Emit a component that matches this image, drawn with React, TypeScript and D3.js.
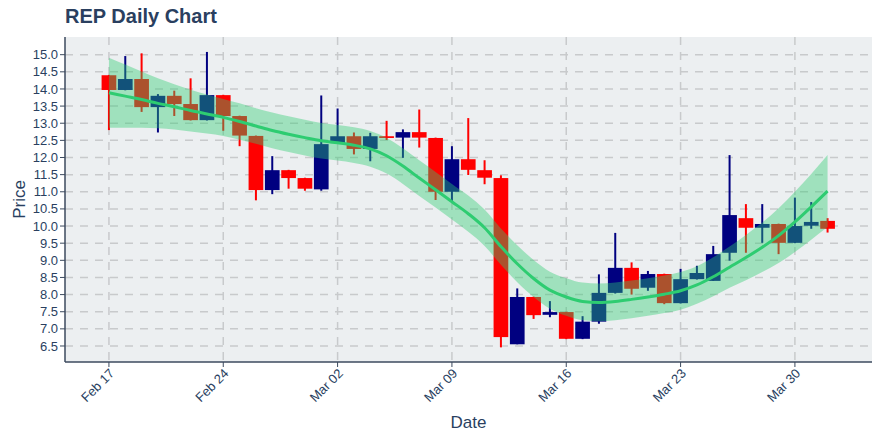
import React from "react";
import * as d3 from "d3";

const dates = [
  "2020-02-17","2020-02-18","2020-02-19","2020-02-20","2020-02-21","2020-02-22","2020-02-23",
  "2020-02-24","2020-02-25","2020-02-26","2020-02-27","2020-02-28","2020-02-29","2020-03-01",
  "2020-03-02","2020-03-03","2020-03-04","2020-03-05","2020-03-06","2020-03-07","2020-03-08",
  "2020-03-09","2020-03-10","2020-03-11","2020-03-12","2020-03-13","2020-03-14","2020-03-15",
  "2020-03-16","2020-03-17","2020-03-18","2020-03-19","2020-03-20","2020-03-21","2020-03-22",
  "2020-03-23","2020-03-24","2020-03-25","2020-03-26","2020-03-27","2020-03-28","2020-03-29",
  "2020-03-30","2020-03-31","2020-04-01",
];
const open = [14.40,13.97,14.29,13.47,13.80,13.56,13.09,13.82,13.21,12.63,11.05,11.63,11.40,11.07,12.42,12.62,12.25,12.62,12.58,12.74,12.57,11.00,11.95,11.63,11.40,6.55,7.93,7.41,7.49,6.71,7.21,8.05,8.78,8.20,8.60,7.75,8.45,8.40,9.22,10.23,9.95,10.06,9.51,10.01,10.15];
const high = [14.41,14.96,15.04,13.85,13.95,14.31,15.08,13.83,13.22,12.64,12.04,11.64,11.41,13.81,13.43,12.73,12.72,13.07,12.82,13.40,12.58,12.33,13.15,11.92,11.48,8.18,7.94,7.81,7.50,7.37,8.59,9.80,8.94,8.69,8.61,8.75,8.84,9.42,12.07,10.64,10.64,10.07,10.83,10.70,10.23];
const low = [12.80,13.96,13.33,12.73,13.21,13.08,13.08,12.78,12.33,10.75,10.93,11.09,11.03,11.03,12.42,12.09,11.89,12.51,11.99,12.29,10.76,10.72,11.49,11.22,6.46,6.55,7.29,7.34,6.70,6.70,7.15,8.03,8.00,8.11,7.72,7.74,8.44,8.40,8.99,9.22,9.51,9.18,9.50,9.92,9.81];
const close = [13.97,14.29,13.47,13.80,13.56,13.09,13.82,13.21,12.64,11.05,11.63,11.40,11.09,12.39,12.62,12.25,12.62,12.57,12.74,12.58,11.00,11.95,11.64,11.41,6.76,7.93,7.40,7.49,6.71,7.21,8.05,8.78,8.17,8.60,7.75,8.45,8.63,9.18,10.32,9.95,10.06,9.51,10.00,10.12,9.92];
const trend = [13.89,13.79,13.69,13.58,13.48,13.37,13.27,13.17,13.05,12.92,12.79,12.68,12.58,12.49,12.43,12.36,12.25,12.05,11.75,11.40,11.06,10.71,10.36,9.95,9.40,8.90,8.47,8.13,7.93,7.80,7.77,7.80,7.86,7.93,8.01,8.11,8.28,8.52,8.80,9.08,9.38,9.72,10.12,10.56,11.02];
const upper = [14.91,14.71,14.51,14.31,14.14,13.98,13.84,13.71,13.58,13.44,13.31,13.20,13.10,13.01,12.95,12.88,12.77,12.57,12.27,11.92,11.58,11.23,10.89,10.48,9.93,9.44,9.01,8.67,8.48,8.35,8.32,8.35,8.41,8.48,8.56,8.66,8.83,9.09,9.40,9.74,10.10,10.52,11.00,11.52,12.07];
const lower = [12.87,12.87,12.87,12.85,12.82,12.76,12.70,12.63,12.52,12.40,12.27,12.16,12.06,11.97,11.91,11.84,11.73,11.53,11.23,10.88,10.54,10.19,9.83,9.42,8.87,8.36,7.93,7.59,7.38,7.25,7.22,7.25,7.31,7.38,7.46,7.56,7.73,7.95,8.20,8.42,8.66,8.92,9.24,9.60,9.97];
const xTickDates = ["2020-02-17","2020-02-24","2020-03-02","2020-03-09","2020-03-16","2020-03-23","2020-03-30"];
const yTicks = [6.5,7,7.5,8,8.5,9,9.5,10,10.5,11,11.5,12,12.5,13,13.5,14,14.5,15];

const W = 880, H = 440;
const M = { left: 65, right: 8, top: 37, bottom: 78 };
const TEXT = "#2a3f5f";
const AXIS = "#3c4a5e";
const FONT = "'Liberation Sans', Arial, sans-serif";
const DAY = 86400000;

export default function App() {
  const parse = (s: string) => new Date(s + "T00:00:00Z");
  const t0 = parse(dates[0]).getTime();
  const x = d3.scaleUtc()
    .domain([new Date(t0 - 2.69 * DAY), new Date(t0 + 46.72 * DAY)])
    .range([M.left, W - M.right]);
  const y = d3.scaleLinear().domain([6.033, 15.516]).range([H - M.bottom, M.top]);
  const fmt = d3.utcFormat("%b %d");
  const bw = (x(new Date(t0 + DAY)) - x(new Date(t0))) * 0.9;

  const pts = dates.map((d, i) => ({ t: parse(d), o: open[i], h: high[i], l: low[i], c: close[i], m: trend[i], u: upper[i], lo: lower[i] }));

  const area = d3.area<any>().x(p => x(p.t)).y0(p => y(p.lo)).y1(p => y(p.u)).curve(d3.curveMonotoneX);
  const line = d3.line<any>().x(p => x(p.t)).y(p => y(p.m)).curve(d3.curveMonotoneX);

  const bottom = H - M.bottom;
  return (
    <svg width={W} height={H} style={{ position: "absolute", left: 0, top: 0, background: "#fff" }} fontFamily={FONT}>
      <rect x={M.left} y={M.top} width={W - M.left - M.right} height={bottom - M.top} fill="#eceff1" />
      {yTicks.map(v => (
        <line key={"gy" + v} x1={M.left} x2={W - M.right} y1={y(v)} y2={y(v)} stroke="#c8cacc" strokeWidth={1.5} strokeDasharray="8,7" />
      ))}
      {xTickDates.map(d => (
        <line key={"gx" + d} x1={x(parse(d))} x2={x(parse(d))} y1={M.top} y2={bottom} stroke="#c8cacc" strokeWidth={1.5} strokeDasharray="8,7" />
      ))}
      {pts.map((p, i) => {
        const col = p.c >= p.o ? "#000080" : "#ff0000";
        const cx = x(p.t);
        const top = y(Math.max(p.o, p.c));
        const bot = y(Math.min(p.o, p.c));
        return (
          <g key={"c" + i}>
            <line x1={cx} x2={cx} y1={y(p.h)} y2={y(p.l)} stroke={col} strokeWidth={2} />
            <rect x={cx - bw / 2} y={top} width={bw} height={Math.max(bot - top, 1)} fill={col} />
          </g>
        );
      })}
      <path d={area(pts) || ""} fill="rgba(46,204,113,0.4)" />
      <path d={line(pts) || ""} fill="none" stroke="#2ecc71" strokeWidth={3} />
      <line x1={M.left} x2={M.left} y1={M.top} y2={bottom} stroke={AXIS} strokeWidth={1.5} />
      <line x1={M.left} x2={W - M.right} y1={bottom} y2={bottom} stroke={AXIS} strokeWidth={1.5} />
      {yTicks.map(v => (
        <g key={"ty" + v}>
          <line x1={M.left - 5} x2={M.left} y1={y(v)} y2={y(v)} stroke={AXIS} strokeWidth={1} />
          <text x={M.left - 7} y={y(v)} dy="0.35em" textAnchor="end" fontSize={13} fill={TEXT}>{v.toFixed(1)}</text>
        </g>
      ))}
      {xTickDates.map(d => {
        const xx = x(parse(d));
        return (
          <g key={"tx" + d}>
            <line x1={xx} x2={xx} y1={bottom} y2={bottom + 5} stroke={AXIS} strokeWidth={1} />
            <text transform={`translate(${xx + 3},${bottom + 9}) rotate(-45)`} dy="0.35em" textAnchor="end" fontSize={13} fill={TEXT}>{fmt(parse(d))}</text>
          </g>
        );
      })}
      <text x={65} y={23} fontSize={20} fontWeight="bold" fill={TEXT}>REP Daily Chart</text>
      <text x={(M.left + W - M.right) / 2} y={428} textAnchor="middle" fontSize={17} fill={TEXT}>Date</text>
      <text transform={`translate(25,${(M.top + bottom) / 2}) rotate(-90)`} textAnchor="middle" fontSize={17} fill={TEXT}>Price</text>
    </svg>
  );
}
